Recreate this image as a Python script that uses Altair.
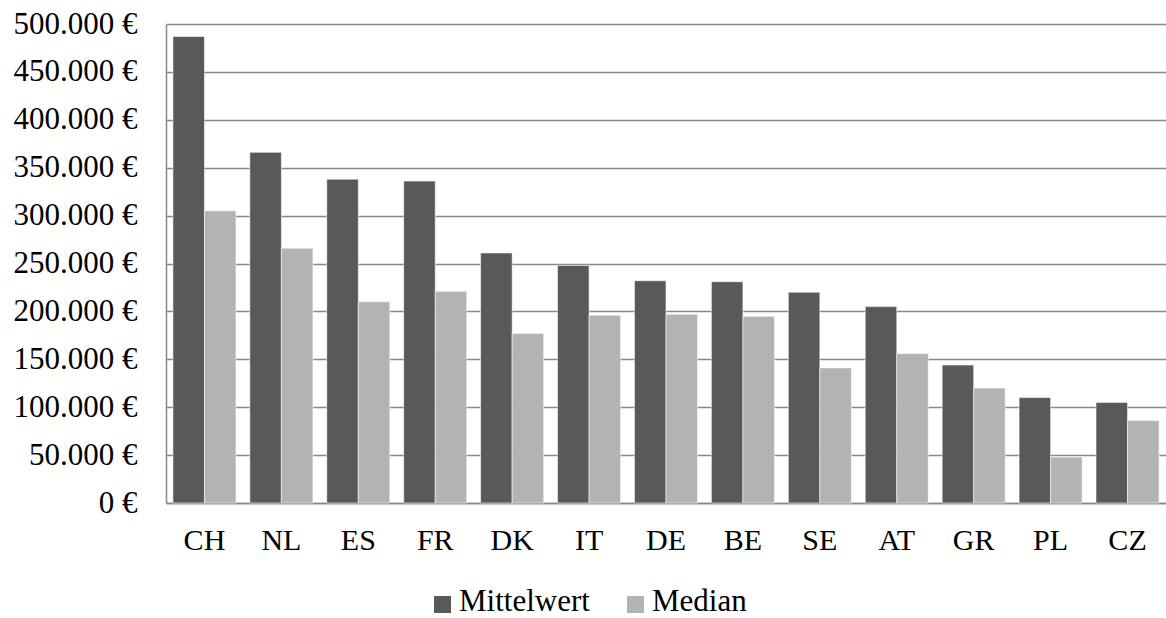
import altair as alt
import pandas as pd

# Average and median value per country (EUR)
countries = ["CH", "NL", "ES", "FR", "DK", "IT", "DE", "BE", "SE", "AT", "GR", "PL", "CZ"]
mittelwert = [487000, 366000, 338000, 336000, 261000, 248000, 232000, 231000, 220000, 205000, 144000, 110000, 105000]
median = [305000, 266000, 210000, 221000, 177000, 196000, 197000, 195000, 141000, 156000, 120000, 48000, 86000]

series = ["Mittelwert", "Median"]
colors = ["#595959", "#b3b3b3"]

rows = []
for i, c in enumerate(countries):
    rows.append({"Land": c, "Reihe": "Mittelwert", "Wert": mittelwert[i]})
    rows.append({"Land": c, "Reihe": "Median", "Wert": median[i]})
df = pd.DataFrame(rows)

FONT = "Liberation Serif"
GRID = "#888888"
W, H = 1000, 479

bars = (
    alt.Chart(df)
    .mark_bar(stroke="#ffffff", strokeWidth=0.8, strokeOpacity=0.7)
    .encode(
        x=alt.X(
            "Land:N",
            sort=countries,
            scale=alt.Scale(paddingInner=0.18, paddingOuter=0.09),
            axis=alt.Axis(
                title=None,
                labelAngle=0,
                ticks=False,
                grid=False,
                domainColor=GRID,
                domainWidth=1.5,
                labelFont=FONT,
                labelFontSize=30,
                labelColor="#000000",
                labelPadding=22,
            ),
        ),
        xOffset=alt.XOffset("Reihe:N", sort=series),
        y=alt.Y(
            "Wert:Q",
            scale=alt.Scale(domain=[0, 500000], nice=False),
            axis=alt.Axis(
                title=None,
                values=list(range(0, 500001, 50000)),
                ticks=False,
                grid=True,
                gridColor=GRID,
                gridWidth=1.5,
                domainColor=GRID,
                domainWidth=1.5,
                labelFont=FONT,
                labelFontSize=31,
                labelColor="#000000",
                labelPadding=29,
                labelExpr="replace(format(datum.value, ','), ',', '.') + ' €'",
            ),
        ),
        color=alt.Color(
            "Reihe:N",
            sort=series,
            scale=alt.Scale(domain=series, range=colors),
            legend=None,
        ),
    )
)

# Legend row below the category labels: a square swatch followed by the series name
legend_x = [268, 461]
legend_layers = []
for name, col, lx in zip(series, colors, legend_x):
    entry = pd.DataFrame({"Reihe": [name]})
    swatch = (
        alt.Chart(entry)
        .mark_square(size=289, color=col, opacity=1, strokeWidth=0)
        .encode(x=alt.value(lx + 8.5), y=alt.value(H + 101.5))
    )
    label = (
        alt.Chart(entry)
        .mark_text(font=FONT, fontSize=31, align="left", baseline="alphabetic", color="#000000")
        .encode(x=alt.value(lx + 25), y=alt.value(H + 108), text="Reihe:N")
    )
    legend_layers += [swatch, label]

chart = (
    alt.layer(bars, *legend_layers)
    .properties(
        width=W,
        height=H,
        autosize=alt.AutoSizeParams(type="none"),
        padding={"left": 166, "top": 24, "right": 0, "bottom": 115},
    )
    .configure(background="#ffffff", font=FONT)
    .configure_view(stroke=None)
)

chart.save("out.html", embed_options={"renderer": "svg", "actions": False})
